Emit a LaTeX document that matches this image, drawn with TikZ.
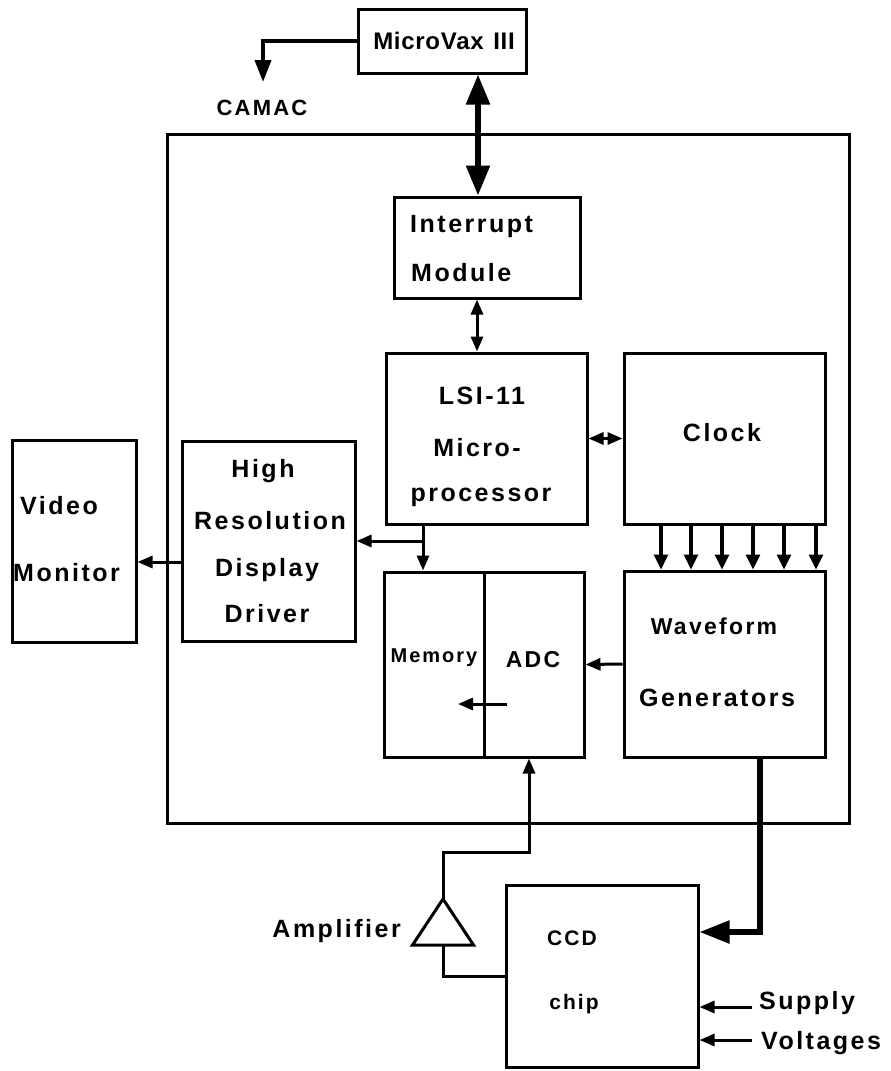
\documentclass[tikz,border=0pt]{standalone}
\usepackage{fontspec}
\setmainfont{Liberation Sans}[LetterSpace=10]
\newfontfamily\vaxfont{Liberation Sans}[LetterSpace=3]
\usetikzlibrary{arrows.meta,calc}
\begin{document}
\begin{tikzpicture}[x=1pt,y=-1pt,
  box/.style={draw, line width=3pt, inner sep=0pt},
  lab/.style={font=\fontsize{25}{29}\selectfont\bfseries, inner sep=0pt, text height=18pt, text depth=0pt},
  wlab/.style={font=\fontsize{23}{27}\selectfont\bfseries, inner sep=0pt, text height=16.5pt, text depth=0pt},
  camlab/.style={font=\fontsize{22}{26}\selectfont\bfseries, inner sep=0pt, text height=15.8pt, text depth=0pt},
  ccdlab/.style={font=\fontsize{21}{25}\selectfont\bfseries, inner sep=0pt, text height=15pt, text depth=0pt},
  smalllab/.style={font=\fontsize{20}{24}\selectfont\bfseries, inner sep=0pt, text height=14.4pt, text depth=0pt},
  biglab/.style={font=\vaxfont\fontsize{24}{28}\selectfont\bfseries, inner sep=0pt, text height=17.3pt, text depth=0pt},
  arr/.style={line width=3pt, -{Triangle[length=15pt,width=12pt]}},
  darr/.style={line width=3pt, {Triangle[length=15pt,width=12pt]}-{Triangle[length=15pt,width=12pt]}},
  carr/.style={line width=3.2pt, -{Triangle[length=15pt,width=14pt]}},
  thickarr/.style={line width=5.5pt, -{Triangle[length=30pt,width=22pt]}},
  thickdarr/.style={line width=5.5pt, {Triangle[length=30pt,width=23pt]}-{Triangle[length=30pt,width=23pt]}},
  wire/.style={line width=3pt}
]
\useasboundingbox (0,0) rectangle (891,1071);

% boxes
\node[box, minimum width=168pt, minimum height=64pt] (mv) at (442,41) {};
\node[box, minimum width=682pt, minimum height=689pt] (outer) at (508,478.5) {};
\node[box, minimum width=186pt, minimum height=101pt] (int) at (487,247.5) {};
\node[box, minimum width=201pt, minimum height=171pt] (lsi) at (486.5,438.5) {};
\node[box, minimum width=201pt, minimum height=171pt] (clk) at (724.5,438.5) {};
\node[box, minimum width=201pt, minimum height=186pt] (wf) at (724.5,664) {};
\node[box, minimum width=100pt, minimum height=185pt] (mem) at (434,664.5) {};
\node[box, minimum width=100pt, minimum height=185pt] (adc) at (534,664.5) {};
\node[box, minimum width=173pt, minimum height=200pt] (hr) at (268.5,541) {};
\node[box, minimum width=124pt, minimum height=202pt] (vid) at (74,541) {};
\node[box, minimum width=192pt, minimum height=182pt] (ccd) at (602,976) {};

% texts
\node[biglab] (mvT) at (444,41) {MicroVax\hspace{0.4em}III};
\node[camlab] (camT) at (262,108) {CAMAC};
\node[lab, anchor=west] (intT1) at (410,223) {Interrupt};
\node[lab, anchor=west] (intT2) at (411,272) {Module};
\node[lab] (lsiT1) at (482,395) {LSI-11};
\node[lab] (lsiT2) at (477,447) {Micro-};
\node[lab] (lsiT3) at (481,492) {processor};
\node[lab] (clkT) at (722,432) {Clock};
\node[wlab] (wfT1) at (714,626) {Waveform};
\node[lab] (wfT2) at (717,697) {Generators};
\node[smalllab] (memT) at (434,655) {Memory};
\node[wlab] (adcT) at (533,659) {ADC};
\node[lab] (hrT1) at (263,468) {High};
\node[lab] (hrT2) at (270,520) {Resolution};
\node[lab] (hrT3) at (267,567) {Display};
\node[lab] (hrT4) at (267,613) {Driver};
\node[lab, anchor=west] (vidT1) at (20,505) {Video};
\node[lab, anchor=west] (vidT2) at (13,572) {Monitor};
\node[lab, anchor=east] (ampL) at (401,928) {Amplifier};
\node[ccdlab] (ccdT1) at (572,938) {CCD};
\node[ccdlab] (ccdT2) at (574,1002) {chip};
\node[lab, anchor=west] (supT1) at (759,1000) {Supply};
\node[lab, anchor=west] (supT2) at (761,1040) {Voltages};

% coordinates
\coordinate (busx) at (478,0);
\coordinate (ilx) at (477,0);
\coordinate (camTip) at (263,82);
\coordinate (jx) at (423,0);
\coordinate (junc) at (423,541);
\coordinate (vy) at (0,562);
\coordinate (inA) at (507,704);
\coordinate (inB) at (458,704);
\coordinate (ampT) at (443,899);
\coordinate (ampB) at (443,945);
\coordinate (ampUp) at (529,852);
\coordinate (wfx) at (760,0);
\coordinate (ccdIn) at (760,932);
\coordinate (s1) at (752,1007);
\coordinate (s2) at (752,1040);

% connectors
\draw[line width=3.8pt, -{Triangle[length=22pt,width=16pt]}] (mv.west) -| (camTip);
\draw[thickdarr] (busx |- mv.south) -- (busx |- int.north);
\draw[darr] (ilx |- int.south) -- (ilx |- lsi.north);
\draw[darr] (lsi.east) -- (clk.west);
\foreach \x in {661,691,722,753,784,816}
  \draw[carr] (clk.south -| \x,0) -- (wf.north -| \x,0);
\draw[arr] (jx |- lsi.south) -- (jx |- mem.north);
\draw[arr] (junc) -- (hr.east |- junc);
\draw[arr] (hr.west |- vy) -- (vid.east |- vy);
\draw[arr] (wf.west) -- (adc.east);
\draw[arr] (inA) -- (inB);
\draw[wire] (ampT) -- ++(30.5,46) -- ++(-61,0) -- cycle;
\draw[arr] (ampT) |- (ampUp) -- (ampUp |- adc.south);
\draw[wire] (ampB) |- (ccd.west);
\draw[thickarr] (wfx |- wf.south) -- (ccdIn) -- (ccdIn -| ccd.east);
\draw[arr] (s1) -- (s1 -| ccd.east);
\draw[arr] (s2) -- (s2 -| ccd.east);
\end{tikzpicture}
\end{document}
